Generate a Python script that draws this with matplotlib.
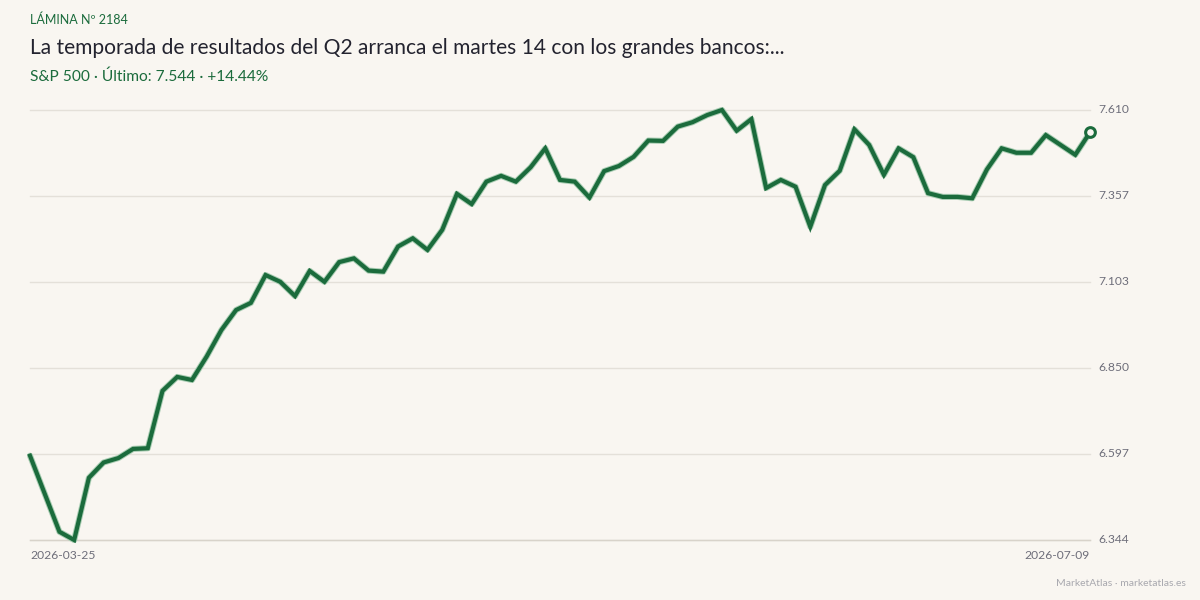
import matplotlib
matplotlib.use("Agg")
import matplotlib.pyplot as plt

plt.rcParams['font.family'] = ['Lato', 'DejaVu Sans']

start_label = "2026-03-25"
end_label = "2026-07-09"
values = [
    6.592, 6.480, 6.368, 6.3438, 6.527, 6.572, 6.585, 6.612, 6.614, 6.783,
    6.824, 6.815, 6.884, 6.962, 7.021, 7.042, 7.124, 7.104, 7.062, 7.136,
    7.104, 7.162, 7.173, 7.137, 7.134, 7.208, 7.232, 7.198, 7.257, 7.363,
    7.333, 7.399, 7.416, 7.399, 7.441, 7.497, 7.404, 7.399, 7.352, 7.430,
    7.445, 7.472, 7.520, 7.519, 7.561, 7.574, 7.595, 7.6099, 7.549, 7.583,
    7.380, 7.404, 7.384, 7.266, 7.389, 7.431, 7.553, 7.507, 7.419, 7.497,
    7.471, 7.365, 7.354, 7.354, 7.350, 7.435, 7.497, 7.484, 7.484, 7.536,
    7.507, 7.478, 7.544,
]
kicker = "LÁMINA Nº 2184"
title = "La temporada de resultados del Q2 arranca el martes 14 con los grandes bancos:..."
subtitle = "S&P 500 · Último: 7.544 · +14.44%"
footer = "MarketAtlas · marketatlas.es"

BG = "#f9f6f1"
GREEN = "#1b6b3c"
GRID = "#e4e0d9"
TICK = "#6e6e7a"

fig = plt.figure(figsize=(12, 6), dpi=100, facecolor=BG)
ax = fig.add_axes([30/1200, 1 - 540/600, 1060/1200, 430/600], facecolor=BG)

x = list(range(len(values)))
vmin, vmax = min(values), max(values)
ax.set_xlim(0, len(values) - 1)
ax.set_ylim(vmin, vmax)

ticks = [vmin + k * (vmax - vmin) / 5 for k in range(6)]
for t in ticks:
    ax.axhline(t, color=GRID, lw=1, zorder=0, clip_on=False)
ax.axhline(vmin, color="#d8d3ca", lw=1, zorder=0, clip_on=False)

ax.plot(x, values, color="#a9cdb3", lw=4.4, solid_capstyle='round', solid_joinstyle='round', zorder=2, clip_on=False)
ax.plot(x, values, color=GREEN, lw=3.0, solid_joinstyle='miter', zorder=3, clip_on=False)
ax.plot([x[-1]], [values[-1]], marker='o', ms=7, mfc=BG, mec=GREEN, mew=2.2, zorder=4, clip_on=False)

for s in ax.spines.values():
    s.set_visible(False)
ax.set_xticks([])
ax.set_yticks([])

for t in ticks:
    ax.text(1.0075, t, f"{t:.3f}", transform=ax.get_yaxis_transform(),
            ha='left', va='center', fontsize=8.7, color=TICK)

ax.text(0, -0.035, start_label, transform=ax.transAxes, ha='left', va='center', fontsize=8.7, color=TICK)
ax.text(1, -0.035, end_label, transform=ax.transAxes, ha='right', va='center', fontsize=8.7, color=TICK)

fig.text(30/1200, 1 - 20/600, kicker, ha='left', va='center', fontsize=9, color=GREEN)
fig.text(30/1200, 1 - 48/600, title, ha='left', va='center', fontsize=15.1, color="#23232f")
fig.text(30/1200, 1 - 77/600, subtitle, ha='left', va='center', fontsize=11.2, color=GREEN)
fig.text(1186/1200, 1 - 583/600, footer, ha='right', va='center', fontsize=7.5, color="#a8a8ae")

fig.savefig("out.png", dpi=100, facecolor=BG)
